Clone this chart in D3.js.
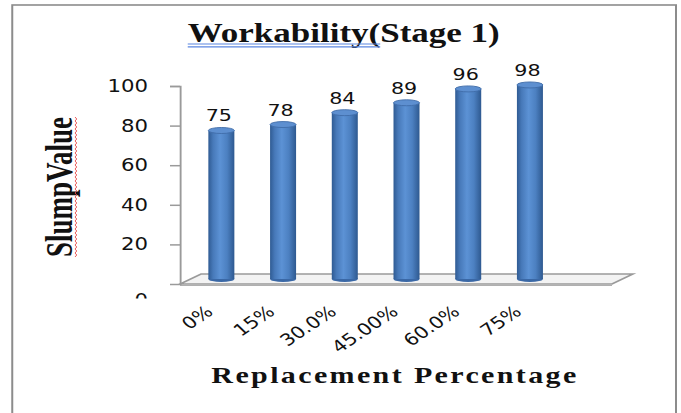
<!DOCTYPE html>
<html>
<head>
<meta charset="utf-8">
<script src="https://cdn.jsdelivr.net/npm/d3@7"></script>
<style>
  html, body { margin: 0; padding: 0; background: #fff; }
  svg { display: block; }
</style>
</head>
<body>
<div id="chart"></div>
<script>
const categories = ['0%', '15%', '30.0%', '45.00%', '60.0%', '75%'];
const slumpValues = [75, 78, 84, 89, 96, 98];
const yTicks = [0, 20, 40, 60, 80, 100];
const titleText = 'Workability(Stage 1)';
const xTitleText = 'Replacement Percentage';
const yTitleText = 'SlumpValue';

const W = 681, H = 413;
const stretch = 1.25; // the source picture is widened horizontally
const VW = W / stretch;
const sansFont = 'DejaVu Sans, Verdana, sans-serif';
const serifFont = 'Liberation Serif, Times New Roman, serif';

const svg = d3.select('#chart')
  .append('svg')
  .attr('width', W)
  .attr('height', H)
  .attr('viewBox', `0 0 ${VW} ${H}`)
  .attr('preserveAspectRatio', 'none');

// gradient for the cylinders
const defs = svg.append('defs');
const grad = defs.append('linearGradient').attr('id', 'cyl').attr('x1', 0).attr('x2', 1).attr('y1', 0).attr('y2', 0);
[['0%', '#2f5b93'], ['18%', '#4779b9'], ['45%', '#5c92d5'], ['72%', '#4c80c1'], ['100%', '#2e5990']]
  .forEach(s => grad.append('stop').attr('offset', s[0]).attr('stop-color', s[1]));

// outer frame
svg.append('rect')
  .attr('x', 9.8).attr('y', 5)
  .attr('width', 531).attr('height', 420)
  .attr('fill', 'none')
  .attr('stroke', '#8c8c8c')
  .attr('stroke-width', 1.6);

// plot layout
const x0 = 144;
const floorW = 345.6;
const depth = { dx: 16.8, dy: -10 };
const y = d3.scaleLinear().domain([0, 100]).range([284, 86]);
const x = d3.scalePoint()
  .domain(categories)
  .range([x0, x0 + floorW * categories.length / (categories.length + 1)])
  .padding(0.5);

// floor
const yb = y(0);
svg.append('path')
  .attr('d', `M${x0},${yb} L${x0 + floorW},${yb} L${x0 + floorW + depth.dx},${yb + depth.dy} L${x0 + depth.dx},${yb + depth.dy} Z`)
  .attr('fill', '#f3f3f3')
  .attr('stroke', '#9a9a9a')
  .attr('stroke-width', 1.5);
svg.append('line')
  .attr('x1', x0).attr('x2', x0 + floorW)
  .attr('y1', yb + 1.5).attr('y2', yb + 1.5)
  .attr('stroke', '#b0b0b0').attr('stroke-width', 1);

// y axis
const yAxis = svg.append('g')
  .attr('transform', `translate(${x0},0)`)
  .call(d3.axisLeft(y).tickValues(yTicks).tickSize(8).tickPadding(17.6));
yAxis.select('.domain').attr('stroke', '#9a9a9a').attr('stroke-width', 1.5);
yAxis.selectAll('.tick line').attr('stroke', '#9a9a9a').attr('stroke-width', 1.5);
yAxis.selectAll('.tick text')
  .attr('font-family', sansFont)
  .attr('font-size', 17)
  .attr('fill', '#111');
// zero label sits low and is cut off in the original
defs.append('clipPath').attr('id', 'zeroClip')
  .append('rect').attr('x', -60).attr('y', 0).attr('width', 60).attr('height', 14);
const zeroTick = yAxis.selectAll('.tick').filter(d => d === 0);
zeroTick.select('text')
  .attr('dy', '1.26em')
  .attr('clip-path', 'url(#zeroClip)');
zeroTick.select('line').remove();

// cylinders
const rx = 10.4, ry = 3;
const bars = svg.append('g').selectAll('g')
  .data(slumpValues)
  .enter()
  .append('g');

bars.each(function (d, i) {
  const g = d3.select(this);
  const cx = x(categories[i]) + depth.dx / 2;
  const top = y(d) + depth.dy / 2;
  const base = y(0) + depth.dy / 2;
  g.append('ellipse')
    .attr('cx', cx).attr('cy', base).attr('rx', rx).attr('ry', ry)
    .attr('fill', '#3a68a6');
  g.append('rect')
    .attr('x', cx - rx).attr('y', top)
    .attr('width', rx * 2).attr('height', base - top)
    .attr('fill', 'url(#cyl)');
  g.append('ellipse')
    .attr('cx', cx).attr('cy', top).attr('rx', rx).attr('ry', ry)
    .attr('fill', '#5d8fd0')
    .attr('stroke', '#3f6ca8')
    .attr('stroke-width', 0.8);
  g.append('text')
    .attr('x', cx - 2).attr('y', top - 9)
    .attr('text-anchor', 'middle')
    .attr('font-family', sansFont)
    .attr('font-size', 16.5)
    .attr('fill', '#111')
    .text(d);
});

// category labels
svg.append('g').selectAll('text')
  .data(categories)
  .enter()
  .append('text')
  .attr('transform', d => `translate(${x(d) - 1},309) rotate(-40)`)
  .attr('text-anchor', 'end')
  .attr('dy', '0.35em')
  .attr('font-family', sansFont)
  .attr('font-size', 16.5)
  .attr('fill', '#111')
  .text(d => d);

// title with its spell-check underline
const title = svg.append('text')
  .attr('x', 275).attr('y', 42)
  .attr('text-anchor', 'middle')
  .attr('font-family', serifFont)
  .attr('font-weight', 'bold')
  .attr('font-size', 28)
  .attr('fill', '#111')
  .text(titleText);
const tNode = title.node();
const u0 = tNode.getStartPositionOfChar(0).x;
const u1 = tNode.getEndPositionOfChar(titleText.indexOf('(')).x;
[44, 46.8].forEach(yy => {
  svg.append('line')
    .attr('x1', u0).attr('x2', u1)
    .attr('y1', yy).attr('y2', yy)
    .attr('stroke', '#5b86e0')
    .attr('stroke-width', 1.2);
});

// x axis title
svg.append('text')
  .attr('x', 316).attr('y', 383)
  .attr('text-anchor', 'middle')
  .attr('font-family', serifFont)
  .attr('font-weight', 'bold')
  .attr('font-size', 24)
  .attr('letter-spacing', 1.9)
  .attr('fill', '#111')
  .text(xTitleText);

// y axis title with red wavy underline
const yLen = 140;
svg.append('text')
  .attr('transform', 'translate(57.6,187) rotate(-90)')
  .attr('text-anchor', 'middle')
  .attr('font-family', serifFont)
  .attr('font-weight', 'bold')
  .attr('font-size', 31)
  .attr('textLength', yLen)
  .attr('lengthAdjust', 'spacingAndGlyphs')
  .attr('fill', '#111')
  .text(yTitleText);
const wave = d3.path();
const wx = 60;
let yy = 187 - yLen / 2;
wave.moveTo(wx, yy);
let k = 0;
while (yy < 187 + yLen / 2) {
  yy += 2;
  wave.lineTo(wx + (k % 2 === 0 ? 1.4 : 0), yy);
  k++;
}
svg.append('path')
  .attr('d', wave.toString())
  .attr('fill', 'none')
  .attr('stroke', '#e84848')
  .attr('stroke-width', 0.8);
</script>
</body>
</html>
